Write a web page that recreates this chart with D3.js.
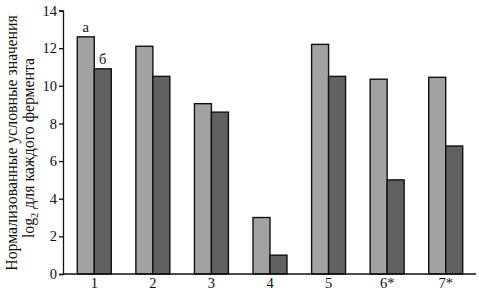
<!DOCTYPE html>
<html><head><meta charset="utf-8">
<script src="https://cdn.jsdelivr.net/npm/d3@7"></script>
<style>body{margin:0;background:#fff}svg{display:block}text{font-family:"Liberation Serif","Times New Roman",serif;fill:#111}</style>
</head><body><svg id="c" width="479" height="297"></svg>
<script>
const categories = ["1","2","3","4","5","6*","7*"];
const seriesA = [12.6, 12.1, 9.05, 3.0, 12.2, 10.35, 10.45];
const seriesB = [10.9, 10.5, 8.6, 1.0, 10.5, 5.0, 6.8];
const yTicks = [0,2,4,6,8,10,12,14];
const seriesLabels = ["а","б"];

const svg = d3.select("#c");
const x = d3.scaleBand().domain(categories).range([65,475]).paddingInner(0.42).paddingOuter(0.21);
const xs = d3.scaleBand().domain([0,1]).range([0, x.bandwidth()]);
const y = d3.scaleLinear().domain([0,14]).range([274,10.5]);

const data = categories.map((c,i)=>({c, v:[seriesA[i], seriesB[i]]}));
const fills = ["#a2a2a2","#616161"];
const g = svg.append("g");
data.forEach(d=>{
  d.v.forEach((v,j)=>{
    g.append("rect").attr("x", x(d.c)+xs(j)).attr("y", y(v))
     .attr("width", xs.bandwidth()).attr("height", y(0)-y(v))
     .attr("fill", fills[j]).attr("stroke","#111").attr("stroke-width",1.4);
  });
});
seriesLabels.forEach((t,j)=>{
  svg.append("text").attr("x", x(categories[0])+xs(j)+xs.bandwidth()/2).attr("y", y(data[0].v[j])-5)
    .attr("text-anchor","middle").attr("font-size",14.5).text(t);
});

const yAxis = d3.axisLeft(y).tickValues(yTicks).tickSize(4).tickPadding(2);
const ya = svg.append("g").attr("transform","translate(63,0)").call(yAxis);
ya.attr("font-family",null);
ya.select(".domain").attr("stroke","#111").attr("stroke-width",1.3);
ya.selectAll(".tick line").attr("stroke","#111").attr("stroke-width",1.3);
ya.selectAll("text").attr("font-size",14.5).attr("fill","#111");

const xAxis = d3.axisBottom(x).tickSize(0).tickPadding(4);
const xa = svg.append("g").attr("transform","translate(0,274)").call(xAxis);
xa.attr("font-family",null);
xa.select(".domain").attr("d","M63,0H476").attr("stroke","#111").attr("stroke-width",1.3);
xa.selectAll("text").attr("font-size",14.5).attr("fill","#111");

svg.append("text").attr("transform","translate(17,143) rotate(-90)").attr("text-anchor","middle").attr("font-size",15.8)
  .text("Нормализованные условные значения");
const t2 = svg.append("text").attr("transform","translate(34,148) rotate(-90)").attr("text-anchor","middle").attr("font-size",15.8);
t2.append("tspan").text("log");
t2.append("tspan").attr("font-size",10.5).attr("dy",4).text("2");
t2.append("tspan").attr("dy",-4).text(" для каждого фермента");
</script></body></html>
